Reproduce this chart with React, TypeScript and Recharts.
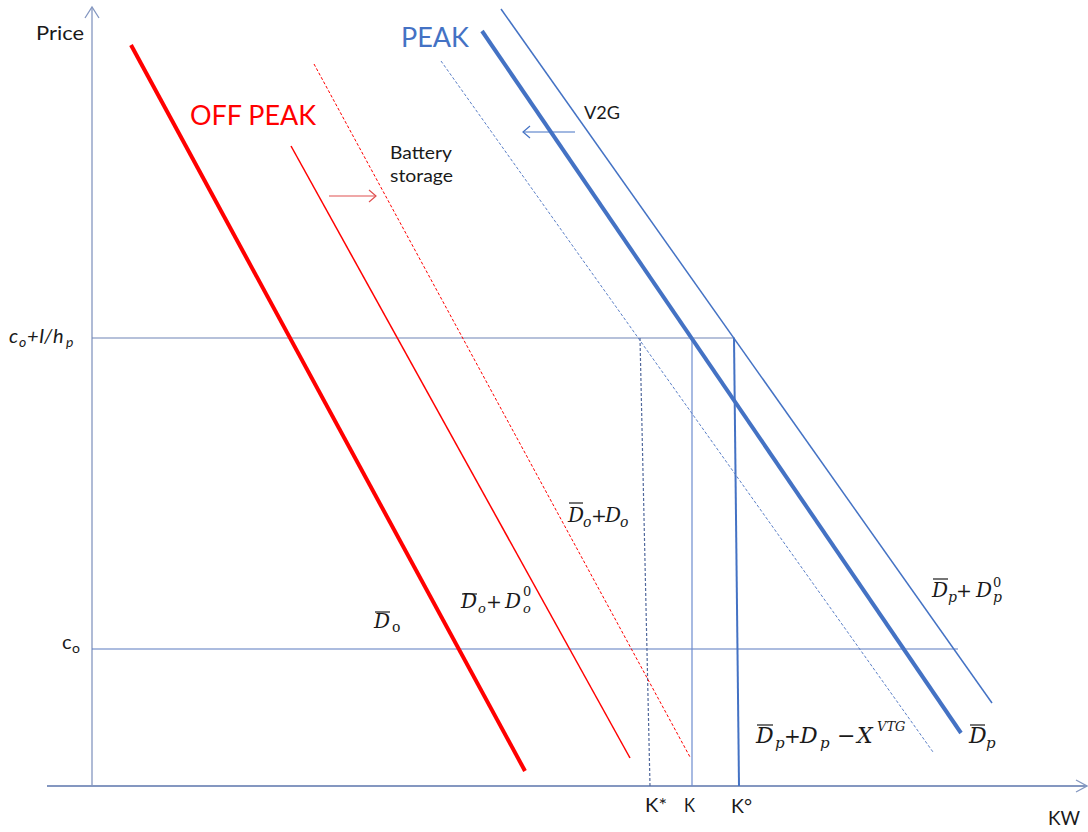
import React from 'react';
import { LineChart, Line, XAxis, YAxis, Customized } from 'recharts';

// Units: KW (x) and Price (y), origin at the axes intersection
const xDomain = [-92, 996];
const yDomain = [-46, 786];

// Demand curves (two end points each)
const offPeakBase = [{ x: 39, y: 741 }, { x: 433, y: 15 }];
const offPeakZero = [{ x: 199, y: 640 }, { x: 538, y: 28 }];
const offPeakStorage = [{ x: 222, y: 722 }, { x: 598, y: 29 }];
const peakBase = [{ x: 390, y: 755 }, { x: 869, y: 53 }];
const peakZero = [{ x: 409, y: 777 }, { x: 900, y: 83 }];
const peakV2G = [{ x: 349, y: 725 }, { x: 841, y: 34 }];

// Price levels
const priceHigh = [{ x: 0, y: 448 }, { x: 643, y: 448 }];
const priceLow = [{ x: 0, y: 137 }, { x: 866, y: 137 }];

// Capacity drops
const kStar = [{ x: 548, y: 448 }, { x: 558, y: 0 }];
const kMid = [{ x: 600, y: 448 }, { x: 600, y: 0 }];
const kDeg = [{ x: 642, y: 448 }, { x: 647, y: 0 }];

// Axes and arrows
const yAxisLine = [{ x: 0, y: 0 }, { x: 0, y: 779 }];
const yAxisHead = [{ x: -7, y: 768 }, { x: 0, y: 779 }, { x: 7, y: 768 }];
const xAxisLine = [{ x: -45, y: 0 }, { x: 995, y: 0 }];
const xAxisHead = [{ x: 984, y: 6 }, { x: 995, y: 0 }, { x: 984, y: -6 }];
const batteryArrow = [{ x: 237, y: 590 }, { x: 284, y: 590 }];
const batteryHead = [{ x: 277, y: 596 }, { x: 284, y: 590 }, { x: 277, y: 584 }];
const v2gArrow = [{ x: 483, y: 654 }, { x: 431, y: 654 }];
const v2gHead = [{ x: 438, y: 660 }, { x: 431, y: 654 }, { x: 438, y: 648 }];

const RED = '#ff0000';
const BLUE = '#4472c4';
const AXIS = '#8497c0';
const SANS = 'Lato, "Open Sans", sans-serif';
const SERIF = '"DejaVu Serif", "Liberation Serif", serif';
const INK = '#1a1a1a';

const seg = (
  key: string,
  data: { x: number; y: number }[],
  color: string,
  width: number,
  dash?: string
) => (
  <Line
    key={key}
    data={data}
    dataKey="y"
    type="linear"
    stroke={color}
    strokeWidth={width}
    strokeDasharray={dash}
    dot={false}
    activeDot={false}
    isAnimationActive={false}
    legendType="none"
  />
);

const Bar = ({ x1, x2, y }: { x1: number; x2: number; y: number }) => (
  <line x1={x1} x2={x2} y1={y} y2={y} stroke={INK} strokeWidth={1.2} />
);

const TextLayer = () => (
  <g>
    {/* Sans labels */}
    <text x={36} y={40} fontFamily={SANS} fontSize={19} fill={INK} textLength={48} lengthAdjust="spacingAndGlyphs">Price</text>
    <text x={190} y={125} fontFamily={SANS} fontSize={27} fill={RED} textLength={126} lengthAdjust="spacingAndGlyphs">OFF PEAK</text>
    <text x={401} y={47} fontFamily={SANS} fontSize={27} fill={BLUE} textLength={68} lengthAdjust="spacingAndGlyphs">PEAK</text>
    <text x={390} y={159} fontFamily={SANS} fontSize={18} fill={INK} textLength={62} lengthAdjust="spacingAndGlyphs">Battery</text>
    <text x={390} y={182} fontFamily={SANS} fontSize={18} fill={INK} textLength={63} lengthAdjust="spacingAndGlyphs">storage</text>
    <text x={584} y={119} fontFamily={SANS} fontSize={17} fill={INK} textLength={36} lengthAdjust="spacingAndGlyphs">V2G</text>
    <text x={645} y={812} fontFamily={SANS} fontSize={19} fill={INK} textLength={22} lengthAdjust="spacingAndGlyphs">K*</text>
    <text x={684} y={812} fontFamily={SANS} fontSize={19} fill={INK} textLength={11} lengthAdjust="spacingAndGlyphs">K</text>
    <text x={731} y={813} fontFamily={SANS} fontSize={19} fill={INK} textLength={21} lengthAdjust="spacingAndGlyphs">K°</text>
    <text x={1048} y={825} fontFamily={SANS} fontSize={19} fill={INK} textLength={32} lengthAdjust="spacingAndGlyphs">KW</text>

    {/* c_o + I/h_p */}
    <text fontFamily={SANS} fontStyle="italic" fontSize={20} fill={INK}>
      <tspan x={9} y={343}>c</tspan>
      <tspan x={19} y={347} fontSize={14}>o</tspan>
      <tspan x={27} y={343}>+</tspan>
      <tspan x={39} y={343}>I</tspan>
      <tspan x={44} y={343}>/</tspan>
      <tspan x={53} y={343}>h</tspan>
      <tspan x={66} y={347} fontSize={14}>p</tspan>
    </text>
    {/* c_o */}
    <text fontFamily={SANS} fontSize={20} fill={INK}>
      <tspan x={62} y={649}>c</tspan>
      <tspan x={72} y={653} fontSize={14}>o</tspan>
    </text>

    {/* D̄o */}
    <text fontFamily={SERIF} fontSize={20} fill={INK}>
      <tspan x={374} y={628} fontStyle="italic">D</tspan>
      <tspan x={392} y={632} fontSize={14}>o</tspan>
    </text>
    <Bar x1={375} x2={390} y={612} />

    {/* D̄o + D_o^0 */}
    <text fontFamily={SERIF} fontSize={20} fill={INK}>
      <tspan x={461} y={608} fontStyle="italic">D</tspan>
      <tspan x={478} y={613} fontSize={13} fontStyle="italic">o</tspan>
      <tspan x={486} y={608} fontSize={19}>+</tspan>
      <tspan x={505} y={608} fontStyle="italic">D</tspan>
      <tspan x={523} y={596} fontSize={13}>0</tspan>
      <tspan x={523} y={613} fontSize={13} fontStyle="italic">o</tspan>
    </text>
    <Bar x1={462} x2={477} y={594} />

    {/* D̄o + Do */}
    <text fontFamily={SERIF} fontSize={20} fill={INK}>
      <tspan x={568} y={522} fontStyle="italic">D</tspan>
      <tspan x={583} y={527} fontSize={14} fontStyle="italic">o</tspan>
      <tspan x={591} y={522} fontSize={19}>+</tspan>
      <tspan x={605} y={522} fontStyle="italic">D</tspan>
      <tspan x={620} y={527} fontSize={14} fontStyle="italic">o</tspan>
    </text>
    <Bar x1={569} x2={583} y={503} />

    {/* D̄p + Dp^0 */}
    <text fontFamily={SERIF} fontSize={20} fill={INK}>
      <tspan x={932} y={597} fontStyle="italic">D</tspan>
      <tspan x={948} y={602} fontSize={14} fontStyle="italic">p</tspan>
      <tspan x={956} y={597} fontSize={19}>+</tspan>
      <tspan x={976} y={597} fontStyle="italic">D</tspan>
      <tspan x={993} y={587} fontSize={13}>0</tspan>
      <tspan x={993} y={602} fontSize={14} fontStyle="italic">p</tspan>
    </text>
    <Bar x1={933} x2={948} y={579} />

    {/* D̄p + Dp − X^VTG */}
    <text fontFamily={SERIF} fontSize={22} fill={INK}>
      <tspan x={756} y={743} fontStyle="italic">D</tspan>
      <tspan x={775} y={748} fontSize={15} fontStyle="italic">p</tspan>
      <tspan x={784} y={743} fontSize={20}>+</tspan>
      <tspan x={800} y={743} fontStyle="italic">D</tspan>
      <tspan x={820} y={748} fontSize={15} fontStyle="italic">p</tspan>
      <tspan x={837} y={743}>−</tspan>
      <tspan x={857} y={743} fontStyle="italic">X</tspan>
      <tspan x={877} y={731} fontSize={13} fontStyle="italic">VTG</tspan>
    </text>
    <Bar x1={757} x2={773} y={725} />

    {/* D̄p */}
    <text fontFamily={SERIF} fontSize={22} fill={INK}>
      <tspan x={969} y={743} fontStyle="italic">D</tspan>
      <tspan x={986} y={748} fontSize={15} fontStyle="italic">p</tspan>
    </text>
    <Bar x1={970} x2={985} y={725} />
  </g>
);

export default function App() {
  return (
    <div style={{ position: 'absolute', left: 0, top: 0, width: 1088, height: 832, background: '#fff' }}>
      <LineChart width={1088} height={832} margin={{ top: 0, right: 0, bottom: 0, left: 0 }}>
        <XAxis type="number" dataKey="x" domain={xDomain} hide allowDataOverflow />
        <YAxis type="number" dataKey="y" domain={yDomain} hide allowDataOverflow />
        {seg('yax', yAxisLine, AXIS, 1.3)}
        {seg('yah', yAxisHead, AXIS, 1.3)}
        {seg('xax', xAxisLine, AXIS, 1.8)}
        {seg('xah', xAxisHead, AXIS, 1.3)}
        {seg('ph', priceHigh, '#6f84b6', 1.2)}
        {seg('pl', priceLow, '#5a7ac0', 1.2)}
        {seg('ks', kStar, '#51689c', 1.2, '3 2')}
        {seg('km', kMid, '#6d8ccf', 1.2)}
        {seg('kd', kDeg, BLUE, 2)}
        {seg('opb', offPeakBase, RED, 4)}
        {seg('opz', offPeakZero, RED, 1.5)}
        {seg('ops', offPeakStorage, RED, 1, '3 2')}
        {seg('pb', peakBase, BLUE, 4)}
        {seg('pz', peakZero, BLUE, 1.5)}
        {seg('pv', peakV2G, '#5b7fc7', 1, '3 2')}
        {seg('ba', batteryArrow, '#e05050', 1.2)}
        {seg('bh', batteryHead, '#e05050', 1.2)}
        {seg('va', v2gArrow, BLUE, 1.2)}
        {seg('vh', v2gHead, BLUE, 1.2)}
        <Customized component={TextLayer} />
      </LineChart>
    </div>
  );
}
